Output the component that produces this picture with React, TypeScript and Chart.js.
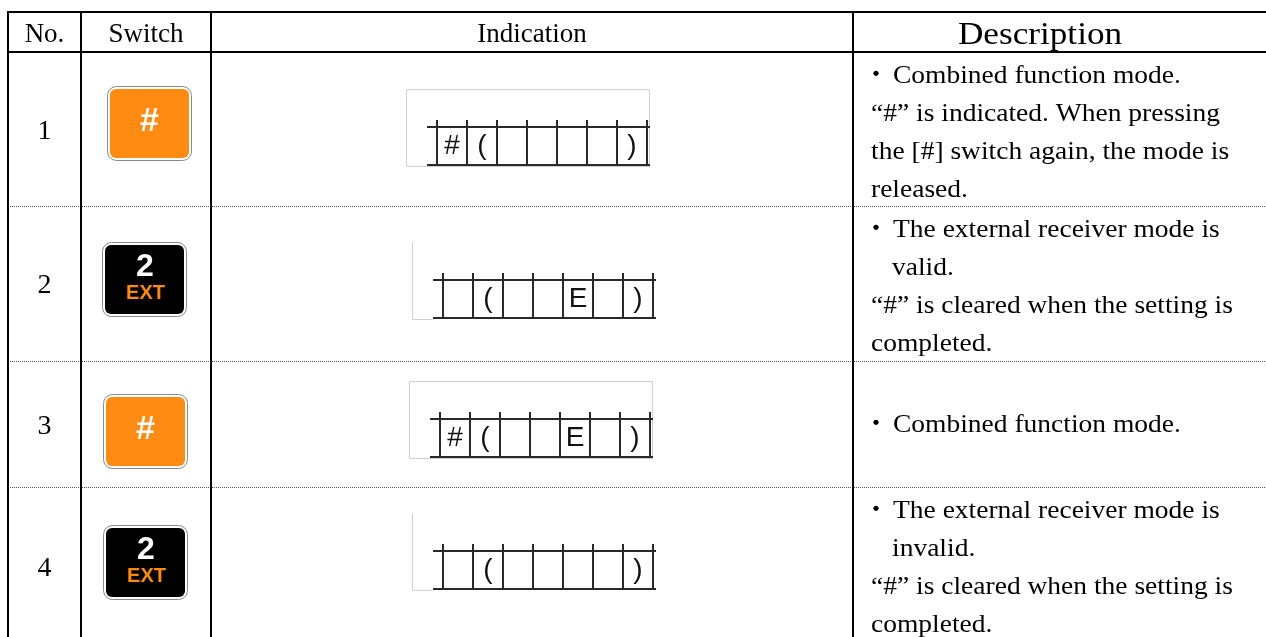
import React, { useEffect, useRef } from 'react';
import { Chart, registerables } from 'chart.js';

Chart.register(...registerables);

// ---------- data ----------
const headers = ['No.', 'Switch', 'Indication', 'Description'];
const rowNumbers = ['1', '2', '3', '4'];
const switchKeys = ['#', '2|EXT', '#', '2|EXT'];
const indicationCells = [
  ['#', '(', '', '', '', '', ')'],
  ['', '(', '', '', 'E', '', ')'],
  ['#', '(', '', '', 'E', '', ')'],
  ['', '(', '', '', '', '', ')'],
];
const indicationFrame = ['closed', 'open', 'closed', 'open'];
const descriptions = [
  ['・Combined function mode.', '“#” is indicated. When pressing', 'the [#] switch again, the mode is', 'released.'],
  ['・The external receiver mode is', '  valid.', '“#” is cleared when the setting is', 'completed.'],
  ['・Combined function mode.'],
  ['・The external receiver mode is', '  invalid.', '“#” is cleared when the setting is', 'completed.'],
];

// ---------- layout (page units) ----------
const PAGE_W = 1266;
const PAGE_H = 637;
const COL_EDGES = [8, 81, 211, 853];
const HEADER_TOP = 12;
const ROW_EDGES = [52, 206, 361, 487, 646];
const HEADER_CENTERS = [44.5, 146, 532, 1040];
const BUTTON_POS = [
  [107, 86],
  [102, 242],
  [103, 394],
  [103, 525],
];
const DISPLAY_POS = [
  [406, 89],
  [412, 242],
  [409, 381],
  [412, 513],
];

const SERIF = '"Liberation Serif", "Times New Roman", serif';
const SANS = '"Liberation Sans", Arial, sans-serif';

function stretchedText(
  ctx: CanvasRenderingContext2D,
  text: string,
  x: number,
  y: number,
  font: string,
  align: CanvasTextAlign,
  sx: number,
  color = '#000'
) {
  ctx.save();
  ctx.translate(x, y);
  ctx.scale(sx, 1);
  ctx.font = font;
  ctx.fillStyle = color;
  ctx.textAlign = align;
  ctx.textBaseline = 'alphabetic';
  ctx.fillText(text, 0, 0);
  ctx.restore();
}

const tablePlugin = {
  id: 'tablePlugin',
  beforeDraw(chart: any) {
    const ctx: CanvasRenderingContext2D = chart.ctx;
    ctx.save();
    ctx.fillStyle = '#fff';
    ctx.fillRect(0, 0, chart.width, chart.height);
    ctx.restore();
  },
  afterDraw(chart: any) {
    const ctx: CanvasRenderingContext2D = chart.ctx;
    const xs = chart.scales.x;
    const ys = chart.scales.y;
    const X = (v: number) => xs.getPixelForValue(v);
    const Y = (v: number) => ys.getPixelForValue(v);
    const tableBottom = ROW_EDGES[ROW_EDGES.length - 1];
    ctx.save();

    // row separators (dotted)
    ctx.strokeStyle = '#555';
    ctx.lineWidth = 1;
    ctx.setLineDash([1, 1]);
    for (let i = 1; i < ROW_EDGES.length - 1; i++) {
      const y = Math.round(Y(ROW_EDGES[i])) + 0.5;
      ctx.beginPath();
      ctx.moveTo(X(COL_EDGES[0]), y);
      ctx.lineTo(X(PAGE_W), y);
      ctx.stroke();
    }
    ctx.setLineDash([]);

    // solid frame lines
    ctx.fillStyle = '#000';
    ctx.fillRect(X(COL_EDGES[0]) - 1, Y(HEADER_TOP) - 1, X(PAGE_W) - X(COL_EDGES[0]) + 1, 2);
    ctx.fillRect(X(COL_EDGES[0]) - 1, Y(ROW_EDGES[0]) - 1, X(PAGE_W) - X(COL_EDGES[0]) + 1, 2);
    ctx.fillRect(X(COL_EDGES[0]) - 1, Y(tableBottom) - 1, X(PAGE_W) - X(COL_EDGES[0]) + 1, 2);
    COL_EDGES.forEach((c) => {
      ctx.fillRect(X(c) - 1, Y(HEADER_TOP) - 1, 2, Y(tableBottom) - Y(HEADER_TOP) + 2);
    });

    // headers
    const hb = Y(HEADER_TOP + 30);
    headers.forEach((h, i) => {
      if (i < 3) {
        stretchedText(ctx, h, X(HEADER_CENTERS[i]), hb, `27px ${SERIF}`, 'center', 1);
      } else {
        stretchedText(ctx, h, X(HEADER_CENTERS[i]), Y(HEADER_TOP + 32), `32px ${SERIF}`, 'center', 1.1);
      }
    });

    rowNumbers.forEach((num, r) => {
      const top = ROW_EDGES[r];
      const bottom = ROW_EDGES[r + 1];
      const mid = (top + bottom) / 2;

      // number
      stretchedText(ctx, num, X(44.5), Y(mid + 9.5), `28px ${SERIF}`, 'center', 1);

      // switch button
      const [bx, by] = BUTTON_POS[r];
      const bw = 85;
      const bh = 75;
      ctx.beginPath();
      ctx.roundRect(X(bx) + 0.5, Y(by) + 0.5, X(bx + bw) - X(bx) - 1, Y(by + bh) - Y(by) - 1, 9);
      ctx.fillStyle = '#fff';
      ctx.fill();
      ctx.strokeStyle = '#8a8a8a';
      ctx.lineWidth = 1;
      ctx.stroke();
      const key = switchKeys[r];
      const isHash = key === '#';
      ctx.beginPath();
      ctx.roundRect(X(bx + 3), Y(by + 3), X(bx + bw - 3) - X(bx + 3), Y(by + bh - 3) - Y(by + 3), 6);
      ctx.fillStyle = isHash ? '#FF8B12' : '#000';
      ctx.fill();
      ctx.textAlign = 'center';
      ctx.textBaseline = 'middle';
      if (isHash) {
        ctx.font = `bold 34px ${SANS}`;
        ctx.fillStyle = '#fff';
        ctx.fillText('#', X(bx + 42.5), Y(by + 36));
      } else {
        const [top1, bot1] = key.split('|');
        ctx.font = `bold 32px ${SANS}`;
        ctx.fillStyle = '#fff';
        ctx.fillText(top1, X(bx + 43), Y(by + 25));
        ctx.font = `bold 20px ${SANS}`;
        ctx.fillStyle = '#FF8A00';
        ctx.fillText(bot1, X(bx + 43.5), Y(by + 51));
      }

      // indication display
      const [dx, dy] = DISPLAY_POS[r];
      const dw = 243;
      const dh = 77;
      ctx.strokeStyle = '#cfcfcf';
      ctx.lineWidth = 1;
      ctx.beginPath();
      if (indicationFrame[r] === 'closed') {
        ctx.rect(Math.round(X(dx)) + 0.5, Math.round(Y(dy)) + 0.5, X(dx + dw) - X(dx), Y(dy + dh) - Y(dy));
      } else {
        ctx.moveTo(Math.round(X(dx)) + 0.5, Math.round(Y(dy)) + 0.5);
        ctx.lineTo(Math.round(X(dx)) + 0.5, Math.round(Y(dy + dh)) + 0.5);
        ctx.lineTo(X(dx + 21), Math.round(Y(dy + dh)) + 0.5);
      }
      ctx.stroke();

      ctx.fillStyle = '#2a2a2a';
      const segTop = dy + 38;
      const segBot = dy + dh - 1;
      ctx.fillRect(X(dx + 21), Y(segTop) - 1, X(dx + dw + 1) - X(dx + 21), 2);
      ctx.fillRect(X(dx + 21), Y(segBot) - 1, X(dx + dw + 1) - X(dx + 21), 2);
      for (let i = 0; i <= 7; i++) {
        const vx = dx + 31 + 30 * i;
        ctx.fillRect(X(vx) - 1, Y(segTop - 7), 2, Y(segBot) - Y(segTop - 7) + 1);
      }
      ctx.font = `28px ${SANS}`;
      ctx.fillStyle = '#111';
      ctx.textAlign = 'center';
      ctx.textBaseline = 'middle';
      indicationCells[r].forEach((ch, i) => {
        if (!ch) return;
        ctx.fillText(ch, X(dx + 31 + 30 * i + 15), Y(segTop + 19));
      });

      // description
      const lines = descriptions[r];
      lines.forEach((line, i) => {
        const base = lines.length === 1 ? mid + 8 : top + 31 + 38 * i;
        const font = `25px ${SERIF}`;
        if (line.startsWith('・')) {
          ctx.save();
          ctx.font = `25px "Noto Sans CJK JP", ${SERIF}`;
          ctx.fillStyle = '#000';
          ctx.textAlign = 'center';
          ctx.textBaseline = 'alphabetic';
          ctx.fillText('・', X(876), Y(base));
          ctx.restore();
          stretchedText(ctx, line.slice(1), X(893), Y(base), font, 'left', 1.1);
        } else if (line.startsWith('  ')) {
          stretchedText(ctx, line.trim(), X(892), Y(base), font, 'left', 1.1);
        } else {
          stretchedText(ctx, line, X(871), Y(base), font, 'left', 1.1);
        }
      });
    });

    ctx.restore();
  },
};

export default function App() {
  const canvasRef = useRef<HTMLCanvasElement | null>(null);

  useEffect(() => {
    if (!canvasRef.current) return;
    const chart = new Chart(canvasRef.current, {
      type: 'scatter',
      data: { datasets: [{ data: [], pointRadius: 0 }] },
      options: {
        animation: false,
        responsive: false,
        devicePixelRatio: 1,
        layout: { padding: 0 },
        events: [],
        plugins: { legend: { display: false }, tooltip: { enabled: false } },
        scales: {
          x: { type: 'linear', min: 0, max: PAGE_W, display: false },
          y: { type: 'linear', min: 0, max: PAGE_H, reverse: true, display: false },
        },
      },
      plugins: [tablePlugin],
    });
    return () => chart.destroy();
  }, []);

  return (
    <div style={{ position: 'fixed', left: 0, top: 0, width: PAGE_W, height: PAGE_H, background: '#fff' }}>
      <canvas ref={canvasRef} width={PAGE_W} height={PAGE_H} style={{ display: 'block' }} />
    </div>
  );
}
